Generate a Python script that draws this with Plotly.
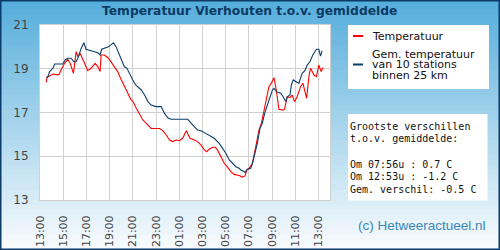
import plotly.graph_objects as go
from datetime import datetime, timedelta

# ---------------- data ----------------
red_times = ["13:32","13:36","13:50","14:07","14:24","14:38","14:50","15:07","15:24","15:36","15:53","16:07","16:16","16:28","16:47","17:07","17:24","17:45","17:59","18:11","18:16","18:33","18:54","19:11","19:25","19:42","19:59","20:16","20:33","20:50","21:01","21:18","21:35","21:52","22:10","22:26","22:35","23:18","23:35","23:53","00:10","00:26","00:44","01:01","01:18","01:32","01:38","01:47","01:56","02:18","02:35","02:53","03:10","03:22","03:35","03:53","04:07","04:18","04:36","04:53","05:10","05:27","05:44","06:10","06:27","06:40","06:50","07:02","07:19","07:36","07:53","08:05","08:19","08:33","08:44","08:56","09:10","09:22","09:36","09:58","10:05","10:19","10:33","10:44","10:57","11:10","11:28","11:40","11:49","11:59","12:11","12:19","12:28","12:37","12:50","13:02","13:14","13:24"]
red_vals = [18.38,18.6,18.67,18.76,18.73,18.73,18.97,19.25,19.43,19.25,18.79,19.78,19.55,19.7,19.32,18.91,19.02,19.25,19.1,18.87,19.63,19.63,19.48,19.25,19.1,18.87,18.52,18.18,17.9,17.6,17.5,17.19,16.89,16.66,16.5,16.35,16.27,16.27,16.17,15.97,15.74,15.67,15.74,15.71,15.82,16.08,16.17,15.97,15.82,15.74,15.67,15.51,15.29,15.21,15.32,15.41,15.41,15.29,14.98,14.68,14.5,14.3,14.17,14.12,14.05,14.1,14.37,14.45,14.68,15.4,16.2,16.5,17.11,17.57,18.18,18.33,18.59,18.03,17.15,17.11,17.15,17.72,17.68,17.8,17.5,17.72,18.18,18.33,18.03,17.65,18.64,19.02,18.87,18.71,18.64,19.17,18.87,19.06]

avg_times = ["13:32","13:41","13:50","14:07","14:16","14:58","15:10","15:24","15:41","15:55","16:07","16:16","16:33","16:47","16:58","17:16","17:42","17:59","18:11","18:19","18:33","18:54","19:07","19:20","19:33","19:50","20:02","20:16","20:30","20:42","20:59","21:16","21:44","22:01","22:18","22:35","23:01","23:27","23:44","00:01","00:18","01:44","02:01","02:18","02:35","02:53","03:10","03:35","04:01","04:27","04:44","05:02","05:19","05:36","05:53","06:10","06:19","06:36","06:41","06:50","07:10","07:19","07:31","07:44","07:58","08:10","08:22","08:36","08:50","09:02","09:10","09:24","09:45","09:58","10:11","10:19","10:33","10:40","10:50","11:02","11:19","11:36","11:50","12:02","12:16","12:31","12:50","13:02","13:11","13:19"]
avg_vals = [18.6,18.65,18.87,19.02,19.22,19.22,19.4,19.48,19.48,19.32,19.32,19.48,19.93,20.19,19.89,19.83,19.78,19.73,19.63,19.89,19.93,20.01,20.09,20.19,20.01,19.63,19.4,19.1,19.02,18.79,18.5,18.25,18.03,17.8,17.5,17.34,17.27,17.27,16.96,16.76,16.69,16.69,16.5,16.35,16.2,16.17,16.08,15.97,15.82,15.59,15.36,15.13,14.83,14.65,14.52,14.45,14.37,14.3,14.25,14.4,14.45,14.68,15.13,15.59,16.28,16.5,16.96,17.34,17.72,18.03,18.1,17.95,17.88,17.72,17.5,17.72,17.8,18.26,18.49,18.41,18.33,18.79,18.91,19.17,19.32,19.63,19.89,19.89,19.58,19.83]

y_ticks = [13, 15, 17, 19, 21]
legend_labels = ["Temperatuur", ["Gem. temperatuur", "van 10 stations", "binnen 25 km"]]
stats_lines = ["Grootste verschillen", "t.o.v. gemiddelde:", "", "Om 07:56u : 0.7 C", "Om 12:53u : -1.2 C", "Gem. verschil: -0.5 C"]
title_text = "Temperatuur Vierhouten t.o.v. gemiddelde"
credit_text = "(c) Hetweeractueel.nl"

START = datetime(2023, 8, 20, 13, 0)


def to_dt(times):
    out, day, prev = [], 0, None
    for t in times:
        h, m = map(int, t.split(":"))
        if prev is not None and (h, m) < prev:
            day += 1
        prev = (h, m)
        out.append(datetime(2023, 8, 20 + day, h, m))
    return out


RED = "#ff0000"
NAVY = "#0c3c68"

# ---------------- figure geometry ----------------
W, H = 500, 250
L, R, T, B = 40, 170, 25, 50
PW, PH = W - L - R, H - T - B


def xp(px):
    return (px - L) / PW


def yp(py):
    return (H - B - py) / PH


fig = go.Figure()
fig.add_trace(go.Scatter(x=to_dt(red_times), y=red_vals, mode="lines",
                         line=dict(color=RED, width=1.1), name="Temperatuur"))
fig.add_trace(go.Scatter(x=to_dt(avg_times), y=avg_vals, mode="lines",
                         line=dict(color=NAVY, width=1.1), name="Gem. temperatuur"))

shapes = []
# gradient background
N = 50
c0 = (84, 173, 219)
c1 = (250, 252, 254)
for i in range(N):
    f = (i + 0.5) / N
    col = tuple(round(c0[k] + (c1[k] - c0[k]) * f) for k in range(3))
    shapes.append(dict(type="rect", xref="paper", yref="paper", layer="below",
                       x0=xp(0), x1=xp(W), y0=yp(i * H / N), y1=yp((i + 1) * H / N + 0.5),
                       fillcolor="rgb(%d,%d,%d)" % col, line=dict(width=0)))
# plot area white
shapes.append(dict(type="rect", xref="paper", yref="paper", layer="below",
                   x0=0, x1=1, y0=0, y1=1, fillcolor="white", line=dict(width=0)))
# legend box
shapes.append(dict(type="rect", xref="paper", yref="paper", layer="below",
                   x0=xp(348), x1=xp(489), y0=yp(89), y1=yp(25), fillcolor="white", line=dict(width=0)))
# stats box
shapes.append(dict(type="rect", xref="paper", yref="paper", layer="below",
                   x0=xp(348), x1=xp(487.5), y0=yp(200.5), y1=yp(114), fillcolor="white", line=dict(width=0)))
# legend samples
shapes.append(dict(type="line", xref="paper", yref="paper", x0=xp(353), x1=xp(363), y0=yp(36), y1=yp(36),
                   line=dict(color=RED, width=2)))
shapes.append(dict(type="line", xref="paper", yref="paper", x0=xp(353), x1=xp(363), y0=yp(64.5), y1=yp(64.5),
                   line=dict(color=NAVY, width=2)))
# outer border
shapes.append(dict(type="rect", xref="paper", yref="paper", x0=xp(0.75), x1=xp(W - 0.75), y0=yp(H - 0.75), y1=yp(0.75),
                   line=dict(color="#0b3b6b", width=1.5), fillcolor="rgba(0,0,0,0)"))

ann = []
ann.append(dict(text="<b>%s</b>" % title_text, xref="paper", yref="paper", x=xp(249), y=yp(11),
                xanchor="center", yanchor="middle", showarrow=False,
                font=dict(family="DejaVu Sans", size=12.3, color="#0d3a63")))
ann.append(dict(text=legend_labels[0], xref="paper", yref="paper", x=xp(371), y=yp(36),
                xanchor="left", yanchor="middle", showarrow=False, borderpad=0,
                font=dict(family="DejaVu Sans", size=11, color="#111")))
for i, s in enumerate(legend_labels[1]):
    ann.append(dict(text=s, xref="paper", yref="paper", x=xp(371), y=yp(54.3 + i * 10.6),
                    xanchor="left", yanchor="middle", showarrow=False, borderpad=0,
                    font=dict(family="DejaVu Sans", size=11, color="#111")))
for i, s in enumerate(stats_lines):
    if not s:
        continue
    ann.append(dict(text=s.replace(" ", "&nbsp;"), xref="paper", yref="paper", x=xp(349), y=yp(126 + i * 12.7),
                    xanchor="left", yanchor="middle", showarrow=False, borderpad=0,
                    font=dict(family="DejaVu Sans Mono", size=10, color="#111")))
ann.append(dict(text=credit_text, xref="paper", yref="paper", x=xp(488), y=yp(225.5),
                xanchor="right", yanchor="middle", showarrow=False,
                font=dict(family="Liberation Sans", size=13.5, color="#3a87b6")))

fig.update_layout(
    template="none",
    width=W, height=H, margin=dict(l=L, r=R, t=T, b=B, pad=0, autoexpand=False),
    paper_bgcolor="rgba(0,0,0,0)", plot_bgcolor="rgba(0,0,0,0)",
    showlegend=False, shapes=shapes, annotations=ann,
    xaxis=dict(type="date", range=[START, START + timedelta(hours=25)], automargin=False,
               tick0=START, dtick=2 * 3600 * 1000, tickformat="%H:%M", tickangle=-90,
               showgrid=True, gridcolor="#d0d0d0", gridwidth=1,
               showline=True, linecolor="#d0d0d0", linewidth=1, mirror=True, zeroline=False,
               ticks="", ticklabelstandoff=10,
               tickfont=dict(family="DejaVu Sans", size=11, color="#444")),
    yaxis=dict(range=[13, 21], tickvals=y_ticks, ticktext=[str(v) for v in y_ticks], automargin=False,
               showgrid=True, gridcolor="#d0d0d0", gridwidth=1,
               showline=True, linecolor="#d0d0d0", linewidth=1, mirror=True, zeroline=False,
               ticks="", ticklabelstandoff=8,
               tickfont=dict(family="DejaVu Sans", size=12, color="#444")),
)

fig.write_html("out.html")
